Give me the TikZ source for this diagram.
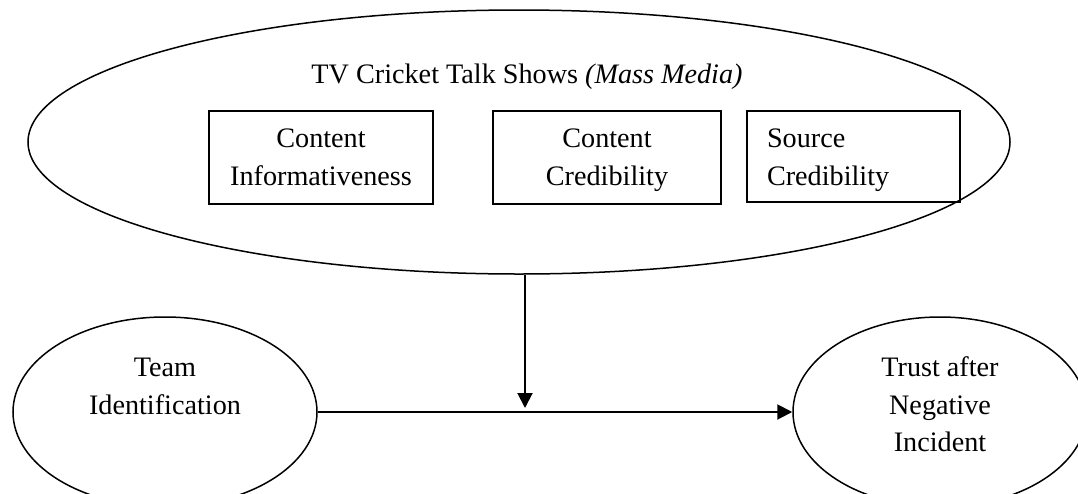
\documentclass[tikz,border=0pt]{standalone}
\usepackage{fontspec}
\setmainfont{Liberation Serif}
\usetikzlibrary{shapes.geometric,arrows.meta}
\newcommand{\tstrut}[1]{\rule{0pt}{#1pt}}
\newcommand{\bstrut}[1]{\rule[-#1pt]{0pt}{#1pt}}
\begin{document}
\begin{tikzpicture}[x=1pt,y=-1pt,
  every node/.style={font=\fontsize{28.2}{37.5}\selectfont},
  oval/.style={draw,ellipse,line width=1.5pt,inner sep=0pt},
  facet/.style={draw,rectangle,line width=1.5pt,inner sep=0pt,align=center,minimum height=93pt},
  link/.style={line width=2pt,-{Triangle[length=15pt,width=15pt]}}]
\useasboundingbox (0,0) rectangle (1078,493);
% mass media ellipse
\node[oval,minimum width=982pt,minimum height=264pt] (media) at (519,142) {};
\node[anchor=base,inner sep=0pt] (mtitle) at (527,83) {TV Cricket Talk Shows \textit{(Mass Media)}};
% facets
\node[facet,minimum width=224pt] (ci) at (321,157.5) {\tstrut{26}Content\\Informativeness\bstrut{8}};
\node[facet,minimum width=228pt] (cc) at (607,157.5) {\tstrut{26}Content\\Credibility\bstrut{8}};
\node[facet,minimum height=91pt,text width=173pt,inner xsep=20pt,align=left] (sc) at (853.5,156.5) {\tstrut{28}Source\\Credibility\bstrut{8}};
% outcome ellipses
\node[oval,minimum width=304pt,minimum height=190pt,align=center] (ti) at (165,412) {\tstrut{21}Team\\Identification\bstrut{54}};
\node[oval,minimum width=294pt,minimum height=190pt,align=center] (tr) at (940,412) {\tstrut{24}Trust after\\Negative\\Incident\bstrut{20}};
% connectors
\draw[link] (ti.east) -- (tr.west);
\coordinate (mod) at (525,408);
\draw[link] (mod |- media.south) -- (mod);
\end{tikzpicture}
\end{document}
